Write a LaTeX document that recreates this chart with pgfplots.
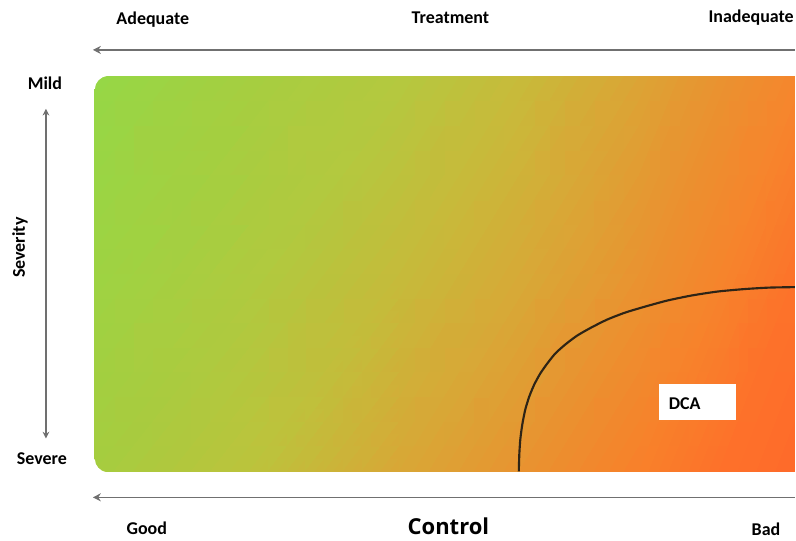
\documentclass[border=0pt]{standalone}
\usepackage{fontspec}
\setmainfont{Carlito}
\newfontfamily\ctrlfont{Open Sans}
\usepackage{pgfplots}
\usepackage{pgfplotstable}
\pgfplotsset{compat=1.18}
\usetikzlibrary{arrows.meta}

\definecolor{arrowgray}{HTML}{707070}
\definecolor{curvecol}{HTML}{2E2416}

% colour grid of the gradient panel (pixel coords, y down)
\pgfplotstableread{
x y c
95  77  rgb255=150,215,70
250 77  rgb255=166,206,64
400 77  rgb255=181,200,63
520 77  rgb255=200,186,58
640 77  rgb255=220,163,53
720 77  rgb255=234,146,48
796 77  rgb255=246,134,45
95  275 rgb255=158,211,66
250 275 rgb255=175,202,63
400 275 rgb255=198,186,58
520 275 rgb255=215,169,55
640 275 rgb255=234,146,48
720 275 rgb255=246,132,44
796 275 rgb255=253,114,42
95  472 rgb255=166,204,63
250 472 rgb255=188,195,60
400 472 rgb255=217,166,54
520 472 rgb255=233,146,48
640 472 rgb255=249,127,42
720 472 rgb255=254,112,42
796 472 rgb255=255,105,42
}\gridtable

\begin{document}
\begin{tikzpicture}
\begin{axis}[
    scale only axis,
    width=597pt, height=403.5pt,
    xmin=0, xmax=796, ymin=0, ymax=538,
    y dir=reverse,
    hide axis,
    clip=false,
    font=\bfseries\fontsize{13.5}{16}\selectfont
]
\addplot[draw=none] coordinates {(0,0) (796,538)};

\addplot[surf, shader=interp, mesh/cols=7,
    mesh/color input=explicit, point meta=explicit symbolic]
    table[x=x, y=y, meta=c] {\gridtable};

% rounded left corners
\fill[white] (axis cs:94,76) -- (axis cs:107,76) .. controls (axis cs:100.4,77) and (axis cs:95,82.4) .. (axis cs:95,89) -- (axis cs:94,89) -- cycle;
\fill[white] (axis cs:94,473) -- (axis cs:107,473) .. controls (axis cs:100.4,472) and (axis cs:95,466.6) .. (axis cs:95,460) -- (axis cs:94,460) -- cycle;

% DCA boundary
\addplot[curvecol, line width=1.6pt, smooth, tension=0.4] coordinates {
    (519.5,472) (520,455) (521,440) (523,425) (526,410) (530,397)
    (535,385) (541,374) (548,364) (556,354) (566,345) (578,336)
    (592,328) (608,320) (626,313) (646,307) (668,301) (692,296)
    (718,292) (745,289.5) (770,288) (796,287.5)
};

% arrows
\addplot[arrowgray, line width=1.1pt, {Stealth[length=6pt,width=6pt]}-] coordinates {(93,50) (796,50)};
\addplot[arrowgray, line width=1.1pt, {Stealth[length=6pt,width=6pt]}-] coordinates {(93,498) (796,498)};
\addplot[arrowgray, line width=1.1pt, {Stealth[length=5pt,width=5pt]}-{Stealth[length=5pt,width=5pt]}] coordinates {(46,109) (46,439)};

% DCA label box
\fill[white] (axis cs:660,385) rectangle (axis cs:737,421);
\node[anchor=west] at (axis cs:665,404) {DCA};

% labels
\node at (axis cs:153,20) {Adequate};
\node at (axis cs:451,18) {Treatment};
\node[anchor=east, inner sep=0pt] at (axis cs:795,18) {Inadequate};
\node at (axis cs:45,83) {Mild};
\node[rotate=90] at (axis cs:20,248) {Severity};
\node at (axis cs:42,459) {Severe};
\node at (axis cs:147,529) {Good};
\node at (axis cs:767,530) {Bad};
\node[font=\ctrlfont\bfseries\fontsize{16.5}{19}\selectfont] at (axis cs:449,527) {Control};
\end{axis}
\end{tikzpicture}
\end{document}
